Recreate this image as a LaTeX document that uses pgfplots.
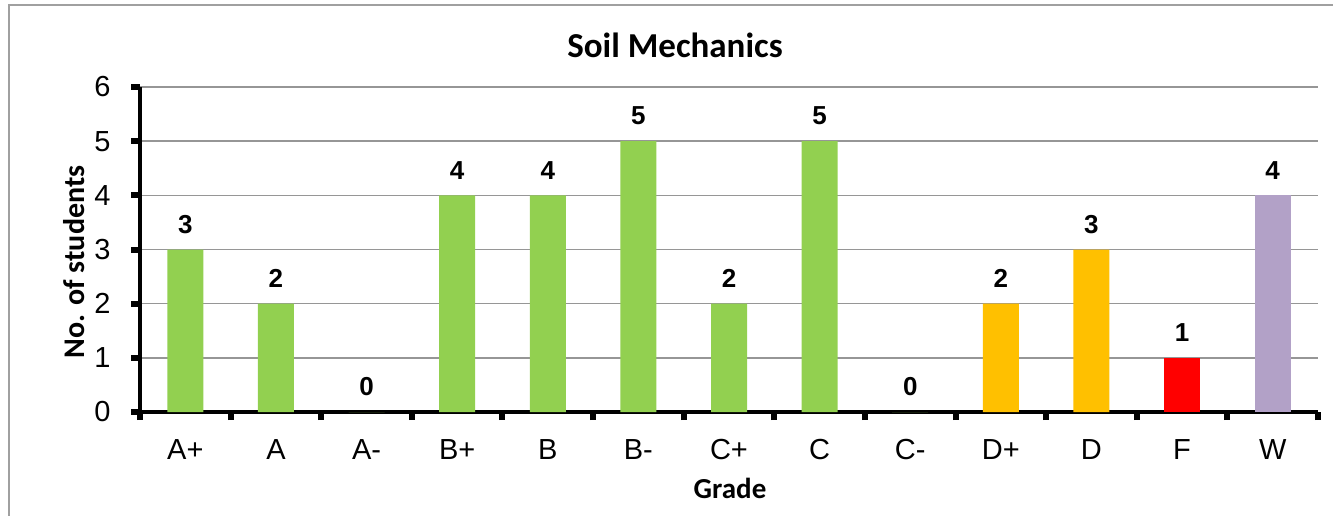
\documentclass[border=0pt]{standalone}
\usepackage{fontspec}
\setmainfont{Liberation Sans}
\newfontfamily\calibri{Carlito}
\usepackage{pgfplots}
\pgfplotsset{compat=1.18}
\definecolor{cgreen}{HTML}{92D050}
\definecolor{corange}{HTML}{FFC000}
\definecolor{cred}{HTML}{FF0000}
\definecolor{cpurple}{HTML}{B2A1C7}
\definecolor{cgrid}{HTML}{969696}
\definecolor{cframe}{HTML}{A0A0A0}
\begin{document}
\begin{tikzpicture}[x=1pt,y=1pt]
\path[use as bounding box] (0,0) rectangle (1333,515);
\draw[cframe, line width=1.5pt] (9,-10) -- (9,510) -- (1345,510);
\begin{axis}[
  at={(140pt,103pt)}, anchor=south west,
  scale only axis, width=1178pt, height=325pt,
  xmin=-0.5, xmax=12.5, ymin=0, ymax=6,
  axis lines=left,
  axis line style={-, line width=4pt, black},
  tick align=outside,
  xtick={0,...,12},
  xticklabels={A+,A,A-,B+,B,B-,C+,C,C-,D+,D,F,W},
  major x tick style={draw=none},
  minor xtick={-0.5,0.5,...,12.5},
  minor tick length=8pt,
  minor x tick style={line width=6pt, black},
  ytick={0,...,6},
  major tick length=9pt,
  ytick style={line width=6pt, black},
  ymajorgrids,
  grid style={cgrid, line width=1.5pt},
  /pgf/number format/assume math mode=true,
  ticklabel style={font=\fontsize{29}{30}\selectfont},
  yticklabel style={xshift=-17pt},
  xticklabel style={yshift=-15pt},
  ybar, bar width=36pt,
  nodes near coords,
  every node near coord/.append style={font=\fontsize{26}{27}\selectfont\bfseries, anchor=center, yshift=25pt},
  clip=false,
]
\addplot[fill=cgreen, draw=none, bar shift=0pt] coordinates {(0,3) (1,2) (2,0) (3,4) (4,4) (5,5) (6,2) (7,5) (8,0)};
\addplot[fill=corange, draw=none, bar shift=0pt] coordinates {(9,2) (10,3)};
\addplot[fill=cred, draw=none, bar shift=0pt] coordinates {(11,1)};
\addplot[fill=cpurple, draw=none, bar shift=0pt] coordinates {(12,4)};
\end{axis}
\node[anchor=base, font=\calibri\bfseries\fontsize{35}{36}\selectfont] at (675,457) {Soil Mechanics};
\node[anchor=base, rotate=90, font=\calibri\bfseries\fontsize{30}{31}\selectfont] at (84,253) {No. of students};
\node[anchor=base, font=\calibri\bfseries\fontsize{29}{30}\selectfont] at (730,17) {Grade};
\end{tikzpicture}
\end{document}
